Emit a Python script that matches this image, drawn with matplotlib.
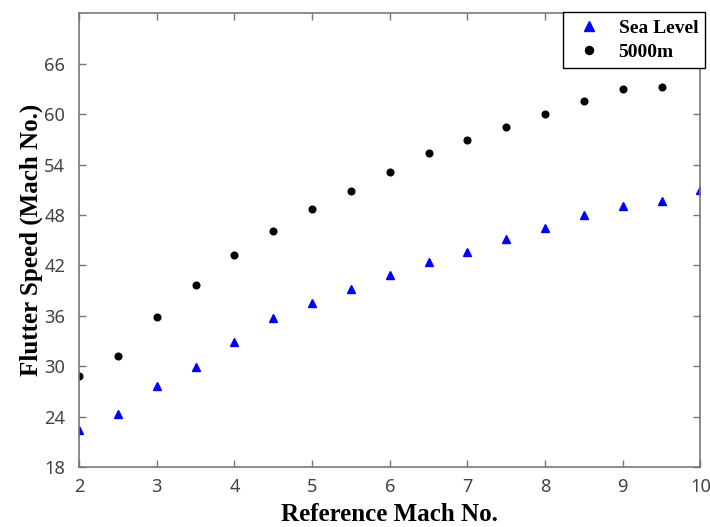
import matplotlib
matplotlib.use("Agg")
import matplotlib.pyplot as plt

# reference Mach numbers
mach = [2.0, 2.5, 3.0, 3.5, 4.0, 4.5, 5.0, 5.5, 6.0, 6.5, 7.0, 7.5, 8.0, 8.5, 9.0, 9.5, 10.0]

# flutter speed at sea level
sea_level = [22.4, 24.3, 27.6, 29.9, 32.9, 35.7, 37.5, 39.2, 40.9, 42.4, 43.6,
             45.1, 46.5, 48.0, 49.1, 49.6, 51.0]

# flutter speed at 5000 m (no point at Mach 10)
mach_5000 = mach[:-1]
alt_5000 = [28.8, 31.2, 35.9, 39.7, 43.2, 46.1, 48.7, 50.9, 53.1, 55.4, 56.9,
            58.5, 60.0, 61.6, 63.0, 63.2]

xticks = [2, 3, 4, 5, 6, 7, 8, 9, 10]
yticks = [18, 24, 30, 36, 42, 48, 54, 60, 66]

spine_col = "#777777"
label_font = {"family": "Liberation Serif", "weight": "bold", "size": 18}

fig = plt.figure(figsize=(7.1, 5.27), dpi=100)
ax = fig.add_axes([0.1113, 0.1139, 0.8753, 0.8609])

ax.plot(mach, sea_level, ls="none", marker="^", ms=5.5, color="#0000ff",
        mec="#0000ff", label="Sea Level")
ax.plot(mach_5000, alt_5000, ls="none", marker="o", ms=4.8, color="black",
        label="5000m")

ax.set_xlim(2, 10)
ax.set_ylim(18, 72)
ax.set_xticks(xticks)
ax.set_yticks(yticks)
ax.tick_params(direction="in", length=5, width=1, color=spine_col,
               top=True, right=True, labelsize=13.2, labelcolor="#444444")
ax.tick_params(axis="x", pad=8)
ax.tick_params(axis="y", pad=10)
for lab in ax.get_xticklabels() + ax.get_yticklabels():
    lab.set_family("Noto Sans")
for sp in ax.spines.values():
    sp.set_color(spine_col)
    sp.set_linewidth(1.2)

ax.set_xlabel("Reference Mach No.", fontdict=label_font, labelpad=5)
ax.set_ylabel("Flutter Speed (Mach No.)", fontdict=label_font, labelpad=1)

leg = fig.legend(loc="upper right", bbox_to_anchor=(0.993, 0.977),
                 borderaxespad=0, fancybox=False, framealpha=1,
                 prop={"family": "Liberation Serif", "weight": "bold", "size": 14},
                 handletextpad=0.5, labelspacing=0.35, borderpad=0.35,
                 handlelength=2.0, markerscale=1.2)
leg.get_frame().set_edgecolor("black")
leg.get_frame().set_linewidth(1.0)

fig.savefig("out.png", dpi=100)
